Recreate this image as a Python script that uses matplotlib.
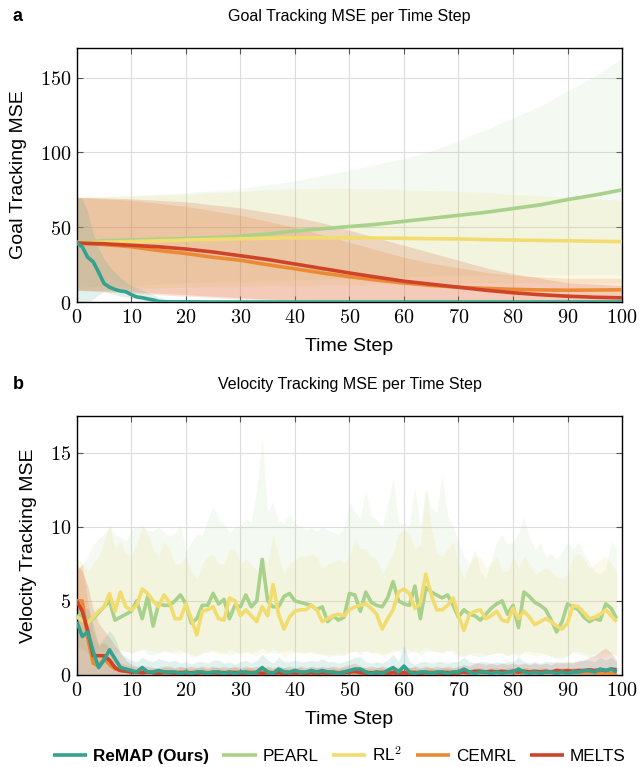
""" Goal / velocity tracking MSE per time step """

import numpy as np
import matplotlib
matplotlib.use('Agg')
import matplotlib.pyplot as plt
from matplotlib.ticker import FuncFormatter


# * Estilo general
plt.rcParams['font.family'] = ['Liberation Sans', 'DejaVu Sans']
plt.rcParams['mathtext.fontset'] = 'cm'


# * Colores por metodo
methods = ['ReMAP (Ours)', 'PEARL', 'RL$^2$', 'CEMRL', 'MELTS']
colors = ['#35a18f', '#a8d18c', '#f2dc70', '#ec8a33', '#cf4428']


# * Datos panel a (Goal Tracking MSE)
t_goal = [0, 5, 10, 15, 20, 25, 30, 35, 40, 45, 50, 55, 60, 65, 70, 75, 80, 85, 90, 95, 100]
t_goal_remap = list(range(21)) + [25, 30, 35, 40, 45, 50, 55, 60, 65, 70, 75, 80, 85, 90, 95, 100]

remap_goal = [39.5, 37, 30, 27, 20, 12.5, 10, 8.5, 7.5, 7, 5, 3.5, 3, 2.2, 1.5, 0.5, 0.3, 0.2, 0.2, 0.2, 0.2,
              0.1, 0.1, 0.1, 0.1, 0.1, 0.1, 0.1, 0.1, 0.1, 0.1, 0.1, 0.1, 0.1, 0.1, 0.1, 0.1]
remap_goal_hi = [70, 69, 60, 46, 36, 29, 24, 20, 16.5, 13.5, 11, 9.5, 8, 6.5, 5, 3.5, 2.5, 1.5, 1, 0.8, 0.6,
                 0.4, 0.4, 0.4, 0.4, 0.4, 0.4, 0.4, 0.4, 0.4, 0.4, 0.4, 0.4, 0.4, 0.4, 0.4, 0.4]
remap_goal_lo = [0, 0, 0, 2, 5, 7, 6, 5, 4, 3.5, 2.5, 2, 1.5, 1, 0.5, 0.2, 0, 0, 0, 0, 0,
                 0, 0, 0, 0, 0, 0, 0, 0, 0, 0, 0, 0, 0, 0, 0, 0]

pearl_goal = [40, 41, 41.5, 42, 42.5, 43, 44, 45.5, 47.5, 49, 50.5, 52, 54, 56, 58, 60, 62.5, 65, 68.5, 71.5, 75]
pearl_goal_hi = [70, 70.5, 71, 72, 73, 74.5, 76, 78.5, 81, 84.5, 88, 92, 96, 101, 108, 115, 123, 131, 141, 151, 163]
pearl_goal_lo = [10, 10.5, 11, 12, 13, 13.5, 14, 14.5, 15, 15.5, 16, 16.5, 17, 17.5, 18, 18, 18, 18, 18, 18, 18]

rl2_goal = [39.5, 40, 40.5, 41, 41.5, 42, 42.3, 42.7, 43, 43, 43, 42.8, 42.6, 42.4, 42.2, 41.8, 41.5, 41.2, 41, 40.7, 40.4]
rl2_goal_hi = [70, 70.5, 71, 71.5, 72, 73, 74, 75, 75.5, 76, 76, 75.5, 75, 74.5, 74, 73, 72, 71, 70, 69, 68]
rl2_goal_lo = [8, 8.5, 9, 9.5, 10, 10.5, 10.5, 11, 11, 11.5, 11.5, 12, 12, 12.5, 12.5, 13, 13, 13, 13, 13, 13]

cemrl_goal = [39.5, 38.5, 37, 34.5, 32.5, 30, 28, 25, 22.3, 19.5, 17, 14.8, 12.8, 11.2, 10, 9.2, 8.6, 8.2, 8, 8.1, 8.3]
cemrl_goal_hi = [70, 69, 68, 66, 64, 61, 58, 54, 50, 45, 40, 35, 30, 26, 23, 20, 18, 17, 16, 16, 16]
cemrl_goal_lo = [8, 7, 6, 5, 4, 3, 2, 1.5, 1, 0.5, 0, 0, 0, 0, 0, 0, 0, 0, 0, 0, 0]

melts_goal = [39.5, 39, 38, 37, 35.5, 33.5, 31, 28.5, 25.5, 22.5, 19.5, 16.7, 14, 12, 10, 8, 6.3, 5, 4, 3.3, 2.9]
melts_goal_hi = [70, 69.5, 69, 68, 67, 65, 63, 60, 57, 53, 48, 43, 38, 33, 28, 23, 19, 16, 13, 12, 11]
melts_goal_lo = [8, 7.5, 7, 6, 5, 4, 3, 2, 1.5, 1, 0.5, 0.2, 0, 0, 0, 0, 0, 0, 0, 0, 0]


# * Datos panel b (Velocity Tracking MSE)
t_vel = list(range(100))

pearl_vel = [3.9, 4.2, 3.7, 3.8, 4.2, 4.6, 5.0, 3.7, 3.9, 4.1,
             4.3, 5.0, 3.8, 5.3, 3.3, 4.8, 4.7, 4.7, 5.0, 5.4,
             4.8, 3.5, 3.8, 4.7, 4.7, 5.5, 4.8, 5.1, 3.8, 4.7,
             4.6, 5.4, 4.6, 5.0, 7.8, 5.0, 4.6, 4.6, 5.3, 5.5,
             5.0, 4.9, 4.8, 4.7, 4.4, 4.6, 3.6, 4.0, 3.7, 3.9,
             5.5, 5.4, 4.3, 5.6, 4.9, 4.7, 4.6, 5.2, 6.3, 5.0,
             4.8, 4.7, 6.0, 3.8, 5.9, 5.6, 5.4, 5.2, 5.4, 4.7,
             3.9, 4.4, 4.1, 4.0, 3.7, 4.1, 4.5, 4.8, 5.0, 4.1,
             4.7, 3.2, 5.6, 5.3, 4.9, 4.7, 4.4, 3.7, 2.9, 3.6,
             4.8, 4.6, 4.4, 3.9, 3.6, 3.8, 3.7, 4.8, 4.5, 3.8]
pearl_vel_hi = [7.0, 7.5, 8.0, 8.8, 9.2, 9.5, 10.0, 9.5, 9.3, 9.0,
                9.8, 10.0, 10.1, 9.8, 9.7, 10.0, 9.6, 9.4, 9.6, 10.2,
                8.3, 9.0, 9.5, 9.4, 10.5, 11.4, 10.5, 10.2, 9.6, 10.0,
                10.1, 10.5, 10.3, 12.5, 16.0, 11.0, 11.7, 10.4, 10.2, 10.9,
                10.3, 10.0, 9.8, 9.9, 9.7, 10.0, 9.8, 9.6, 9.5, 9.9,
                11.7, 11.0, 10.6, 12.5, 10.7, 10.5, 10.0, 11.5, 13.3, 10.3,
                10.2, 10.1, 12.7, 10.0, 12.6, 11.3, 11.0, 13.5, 10.8, 10.0,
                9.0, 8.0, 7.5, 8.5, 7.0, 6.5, 7.8, 9.0, 9.5, 8.8,
                9.0, 9.6, 10.7, 9.3, 8.5, 8.9, 8.0, 8.2, 7.8, 8.3,
                9.0, 8.5, 9.0, 8.2, 7.6, 7.0, 6.8, 7.2, 9.0, 8.5]
pearl_vel_lo = [2.0, 1.8, 1.5, 1.4, 1.5, 1.6, 1.8, 1.4, 1.5, 1.6,
                1.5, 1.6, 1.7, 1.4, 1.3, 1.5, 1.6, 1.5, 1.6, 1.7,
                1.5, 1.2, 1.3, 1.5, 1.6, 1.7, 1.6, 1.5, 1.3, 1.5,
                1.5, 1.6, 1.5, 1.6, 1.8, 1.6, 1.5, 1.5, 1.6, 1.7,
                1.6, 1.5, 1.5, 1.5, 1.4, 1.5, 1.2, 1.3, 1.3, 1.3,
                1.6, 1.6, 1.4, 1.7, 1.5, 1.5, 1.4, 1.5, 1.7, 1.6,
                1.5, 1.5, 1.7, 1.3, 1.6, 1.6, 1.6, 1.5, 1.7, 1.5,
                1.3, 1.3, 1.4, 1.3, 1.2, 1.3, 1.4, 1.5, 1.5, 1.3,
                1.5, 1.2, 1.6, 1.6, 1.5, 1.5, 1.4, 1.2, 1.1, 1.0,
                1.3, 1.5, 1.4, 1.3, 1.2, 1.2, 1.2, 1.2, 1.5, 1.3]

rl2_vel = [3.9, 3.7, 3.5, 3.9, 4.3, 4.6, 5.5, 4.3, 5.6, 4.6,
           4.4, 4.7, 5.8, 5.5, 5.0, 4.6, 5.4, 4.9, 3.8, 3.8,
           4.8, 3.8, 2.7, 4.3, 4.4, 4.6, 3.8, 3.7, 5.2, 5.0,
           4.0, 4.4, 4.0, 3.6, 4.6, 4.0, 6.1, 4.1, 3.1, 3.9,
           4.3, 4.4, 4.4, 4.7, 4.4, 3.6, 3.8, 4.0, 4.1, 4.0,
           4.4, 4.6, 4.7, 4.8, 4.5, 4.1, 3.1, 3.8, 4.4, 5.6,
           5.8, 5.5, 4.5, 4.8, 6.8, 5.4, 4.4, 4.4, 4.7, 5.2,
           4.0, 3.0, 4.1, 4.3, 4.4, 3.8, 4.0, 4.3, 3.7, 3.6,
           4.5, 3.8, 4.3, 3.9, 3.4, 3.6, 3.8, 3.6, 3.3, 3.1,
           3.5, 4.7, 4.6, 4.2, 3.8, 3.9, 4.1, 4.4, 4.0, 3.6]
rl2_vel_hi = [8.0, 7.5, 7.0, 7.5, 8.0, 9.0, 10.2, 8.5, 9.0, 8.2,
              8.0, 8.8, 10.0, 9.5, 8.5, 8.0, 9.0, 8.5, 7.5, 7.5,
              8.0, 7.0, 6.5, 7.5, 8.0, 8.2, 7.5, 7.5, 8.5, 8.5,
              7.5, 7.8, 7.5, 7.0, 8.0, 7.5, 9.5, 8.0, 6.8, 7.5,
              7.8, 8.0, 8.0, 8.2, 8.0, 7.2, 7.5, 7.6, 7.8, 7.5,
              8.0, 9.2, 8.5, 8.5, 8.0, 7.8, 6.8, 7.5, 8.2, 9.5,
              9.8, 9.5, 8.5, 8.8, 12.6, 10.0, 8.2, 8.0, 8.5, 9.0,
              7.5, 6.5, 7.5, 8.0, 8.0, 7.2, 7.5, 8.0, 7.0, 7.0,
              8.0, 7.2, 8.0, 7.5, 6.8, 7.0, 7.2, 7.0, 6.6, 6.5,
              6.8, 8.0, 8.2, 7.8, 7.2, 7.5, 7.8, 8.0, 7.5, 7.0]
rl2_vel_lo = [1.8, 1.6, 1.5, 1.6, 1.7, 1.6, 1.8, 1.5, 1.7, 1.6,
              1.5, 1.6, 1.8, 1.7, 1.6, 1.5, 1.7, 1.6, 1.4, 1.4,
              1.6, 1.4, 1.2, 1.5, 1.5, 1.6, 1.4, 1.4, 1.7, 1.6,
              1.4, 1.5, 1.4, 1.3, 1.5, 1.4, 1.8, 1.5, 1.2, 1.4,
              1.5, 1.5, 1.5, 1.6, 1.5, 1.3, 1.4, 1.4, 1.5, 1.4,
              1.5, 1.6, 1.6, 1.6, 1.5, 1.5, 1.2, 1.4, 1.5, 1.7,
              1.8, 1.7, 1.5, 1.6, 1.9, 1.7, 1.5, 1.5, 1.6, 1.7,
              1.4, 1.2, 1.5, 1.5, 1.5, 1.4, 1.4, 1.5, 1.4, 1.3,
              1.5, 1.4, 1.5, 1.4, 1.3, 1.3, 1.4, 1.3, 1.2, 1.2,
              1.3, 1.6, 1.6, 1.5, 1.4, 1.4, 1.5, 1.5, 1.4, 1.3]

remap_vel = [3.6, 2.6, 2.9, 1.6, 0.5, 1.0, 1.7, 1.1, 0.5, 0.4,
             0.3, 0.2, 0.5, 0.2, 0.2, 0.3, 0.2, 0.2, 0.2, 0.1,
             0.2, 0.1, 0.2, 0.2, 0.1, 0.2, 0.2, 0.1, 0.2, 0.1,
             0.2, 0.2, 0.1, 0.2, 0.5, 0.2, 0.1, 0.4, 0.2, 0.2,
             0.3, 0.2, 0.2, 0.3, 0.2, 0.3, 0.2, 0.2, 0.1, 0.2,
             0.3, 0.4, 0.4, 0.2, 0.1, 0.2, 0.1, 0.3, 0.5, 0.2,
             0.6, 0.2, 0.1, 0.2, 0.2, 0.1, 0.2, 0.2, 0.1, 0.2,
             0.2, 0.4, 0.2, 0.1, 0.2, 0.2, 0.1, 0.2, 0.1, 0.2,
             0.2, 0.4, 0.2, 0.1, 0.2, 0.1, 0.2, 0.2, 0.1, 0.2,
             0.1, 0.2, 0.2, 0.3, 0.3, 0.2, 0.4, 0.3, 0.4, 0.2]
remap_vel_hi = [5.0, 4.5, 4.5, 3.5, 2.0, 2.5, 3.0, 2.5, 1.5, 1.2,
                1.0, 0.9, 1.2, 1.0, 0.9, 1.1, 1.0, 0.9, 1.0, 0.8,
                0.9, 0.7, 0.9, 0.9, 0.8, 1.0, 1.0, 0.8, 0.9, 0.7,
                0.9, 1.0, 0.8, 1.0, 1.4, 1.0, 0.8, 1.2, 0.9, 0.9,
                1.0, 0.9, 0.9, 1.0, 0.9, 1.1, 0.9, 0.9, 0.8, 0.9,
                1.0, 1.2, 1.2, 0.9, 0.8, 0.9, 0.8, 1.0, 1.4, 0.9,
                2.0, 0.9, 0.7, 0.9, 0.9, 0.8, 0.9, 0.9, 0.8, 0.9,
                0.9, 1.2, 0.9, 0.8, 0.9, 0.9, 0.8, 0.9, 0.8, 0.9,
                0.9, 1.2, 0.9, 0.8, 0.9, 0.8, 0.9, 0.9, 0.8, 0.9,
                0.8, 0.9, 0.9, 1.0, 1.0, 0.9, 1.2, 1.0, 1.2, 0.9]

cemrl_vel = [5.0, 5.0, 2.5, 0.8, 0.6, 1.1, 0.7, 0.4, 0.3, 0.3,
             0.2, 0.2, 0.2, 0.15, 0.2, 0.15, 0.2, 0.2, 0.15, 0.2,
             0.2, 0.15, 0.2, 0.2, 0.15, 0.2, 0.2, 0.15, 0.2, 0.2,
             0.15, 0.2, 0.2, 0.15, 0.2, 0.2, 0.15, 0.2, 0.2, 0.15,
             0.2, 0.2, 0.15, 0.2, 0.2, 0.15, 0.2, 0.2, 0.15, 0.2,
             0.2, 0.15, 0.2, 0.2, 0.15, 0.2, 0.2, 0.15, 0.2, 0.2,
             0.15, 0.2, 0.2, 0.15, 0.2, 0.2, 0.15, 0.2, 0.2, 0.15,
             0.2, 0.2, 0.15, 0.2, 0.2, 0.15, 0.2, 0.2, 0.15, 0.2,
             0.2, 0.15, 0.2, 0.2, 0.15, 0.2, 0.2, 0.15, 0.2, 0.2,
             0.15, 0.2, 0.2, 0.15, 0.2, 0.15, 0.1, 0.15, 0.1, 0.1]
cemrl_vel_hi = [7.0, 7.5, 5.0, 3.0, 2.0, 2.2, 1.8, 1.2, 0.8, 0.7,
                0.6, 0.5, 0.5, 0.4, 0.5, 0.4, 0.5, 0.5, 0.4, 0.5,
                0.5, 0.4, 0.5, 0.5, 0.4, 0.5, 0.5, 0.4, 0.5, 0.5,
                0.4, 0.5, 0.5, 0.4, 0.5, 0.5, 0.4, 0.5, 0.5, 0.4,
                0.5, 0.5, 0.4, 0.5, 0.5, 0.4, 0.5, 0.5, 0.4, 0.5,
                0.5, 0.4, 0.5, 0.5, 0.4, 0.5, 0.5, 0.4, 0.5, 0.5,
                0.4, 0.5, 0.5, 0.4, 0.5, 0.5, 0.4, 0.5, 0.5, 0.4,
                0.5, 0.5, 0.4, 0.5, 0.5, 0.4, 0.5, 0.5, 0.4, 0.5,
                0.5, 0.4, 0.5, 0.5, 0.4, 0.5, 0.5, 0.4, 0.5, 0.5,
                0.4, 0.5, 0.5, 0.4, 0.5, 0.4, 0.4, 0.4, 0.4, 0.4]

melts_vel = [5.0, 4.3, 3.0, 1.3, 1.3, 1.3, 1.0, 0.5, 0.3, 0.25,
             0.2, 0.2, 0.15, 0.2, 0.15, 0.1, 0.15, 0.15, 0.1, 0.15,
             0.1, 0.15, 0.1, 0.15, 0.1, 0.15, 0.1, 0.15, 0.1, 0.15,
             0.1, 0.15, 0.1, 0.15, 0.1, 0.15, 0.1, 0.15, 0.1, 0.15,
             0.1, 0.15, 0.1, 0.15, 0.1, 0.15, 0.1, 0.15, 0.1, 0.15,
             0.2, 0.25, 0.15, 0.1, 0.15, 0.1, 0.15, 0.1, 0.15, 0.1,
             0.15, 0.1, 0.15, 0.1, 0.15, 0.1, 0.15, 0.1, 0.15, 0.1,
             0.15, 0.2, 0.15, 0.25, 0.25, 0.2, 0.25, 0.2, 0.25, 0.2,
             0.25, 0.2, 0.25, 0.2, 0.25, 0.2, 0.25, 0.2, 0.3, 0.25,
             0.3, 0.25, 0.3, 0.3, 0.35, 0.3, 0.35, 0.3, 0.4, 0.35]
melts_vel_hi = [7.5, 7.0, 6.0, 4.5, 3.5, 3.0, 2.5, 2.0, 1.5, 1.0,
                0.7, 0.6, 0.6, 0.6, 0.5, 0.5, 0.6, 0.6, 0.5, 0.6,
                0.5, 0.6, 0.5, 0.6, 0.5, 0.6, 0.5, 0.6, 0.5, 0.6,
                0.5, 0.6, 0.5, 0.6, 0.5, 0.6, 0.5, 0.6, 0.5, 0.6,
                0.5, 0.6, 0.5, 0.6, 0.5, 0.6, 0.5, 0.6, 0.5, 0.6,
                0.7, 0.8, 0.6, 0.5, 0.6, 0.5, 0.6, 0.5, 0.6, 0.5,
                0.6, 0.5, 0.6, 0.5, 0.6, 0.5, 0.6, 0.5, 0.6, 0.5,
                0.6, 0.7, 0.6, 0.8, 0.8, 0.7, 0.8, 0.7, 0.8, 0.7,
                0.8, 0.7, 0.8, 0.7, 0.8, 0.7, 0.8, 0.7, 0.9, 0.8,
                0.9, 0.8, 1.0, 1.0, 1.2, 1.3, 1.6, 1.8, 1.5, 1.0]


# * Figura
fig = plt.figure(figsize=(6.4, 7.67), dpi=100)
ax_a = fig.add_axes([0.120, 0.606, 0.852, 0.332])
ax_b = fig.add_axes([0.120, 0.120, 0.852, 0.338])

# panel a: bandas y lineas
goal_x = [t_goal_remap, t_goal, t_goal, t_goal, t_goal]
goal_mean = [remap_goal, pearl_goal, rl2_goal, cemrl_goal, melts_goal]
goal_hi = [remap_goal_hi, pearl_goal_hi, rl2_goal_hi, cemrl_goal_hi, melts_goal_hi]
goal_lo = [remap_goal_lo, pearl_goal_lo, rl2_goal_lo, cemrl_goal_lo, melts_goal_lo]
band_alpha = [0.15, 0.12, 0.15, 0.2, 0.17]

for i in [1, 2, 3, 4, 0]:
    ax_a.fill_between(goal_x[i], goal_lo[i], goal_hi[i], color=colors[i],
                      alpha=band_alpha[i], lw=0, zorder=1)
lines = {}
for i in [1, 2, 3, 4, 0]:
    lines[i], = ax_a.plot(goal_x[i], goal_mean[i], color=colors[i], lw=2.6,
                          zorder=3 + (i == 0), solid_capstyle='butt')

# panel b: bandas y lineas
vel_mean = [remap_vel, pearl_vel, rl2_vel, cemrl_vel, melts_vel]
vel_hi = [remap_vel_hi, pearl_vel_hi, rl2_vel_hi, cemrl_vel_hi, melts_vel_hi]
vel_lo = [np.zeros(len(t_vel)), pearl_vel_lo, rl2_vel_lo,
          np.zeros(len(t_vel)), np.zeros(len(t_vel))]

for i in [1, 2, 3, 4, 0]:
    ax_b.fill_between(t_vel, vel_lo[i], vel_hi[i], color=colors[i],
                      alpha=band_alpha[i], lw=0, zorder=1)
for i in [1, 2, 3, 4, 0]:
    ax_b.plot(t_vel, vel_mean[i], color=colors[i], lw=2.6,
              zorder=3 + (i == 0), solid_capstyle='butt')


# * Ejes, grid, ticks
cm_fmt = FuncFormatter(lambda v, p: r'$%d$' % v)

ax_a.set_ylim(0, 170)
ax_a.set_yticks([0, 50, 100, 150])
ax_b.set_ylim(0, 17.5)
ax_b.set_yticks([0, 5, 10, 15])

for ax in (ax_a, ax_b):
    ax.set_xlim(0, 100)
    ax.set_xticks(range(0, 101, 10))
    ax.xaxis.set_major_formatter(cm_fmt)
    ax.yaxis.set_major_formatter(cm_fmt)
    ax.grid(True, color='#dcdcdc', lw=0.8, zorder=0)
    ax.set_axisbelow(True)
    ax.tick_params(direction='in', top=True, right=True, length=4,
                   width=0.8, color='#555555', labelsize=14.5, pad=4)
    for s in ax.spines.values():
        s.set_linewidth(1.0)
        s.set_color('black')
    ax.set_xlabel('Time Step', fontsize=14, labelpad=8)

ax_a.set_ylabel('Goal Tracking MSE', fontsize=14, labelpad=9)
ax_b.set_ylabel('Velocity Tracking MSE', fontsize=14, labelpad=9)

# titulos y letras de panel
fig.text(0.546, 0.978, 'Goal Tracking MSE per Time Step', ha='center', va='center', fontsize=11.5)
fig.text(0.546, 0.499, 'Velocity Tracking MSE per Time Step', ha='center', va='center', fontsize=11.5)
fig.text(0.028, 0.978, 'a', ha='center', va='center', fontsize=13, fontweight='bold')
fig.text(0.028, 0.499, 'b', ha='center', va='center', fontsize=13, fontweight='bold')


# * Leyenda
handles = [lines[i] for i in range(5)]
leg = fig.legend(handles, methods, loc='center', ncol=5, frameon=False,
                 bbox_to_anchor=(0.53, 0.016), fontsize=12.3,
                 handlelength=2.0, handletextpad=0.35, columnspacing=0.8,
                 borderpad=0, borderaxespad=0)
leg.get_texts()[0].set_fontweight('bold')

plt.savefig('out.png', dpi=100)
